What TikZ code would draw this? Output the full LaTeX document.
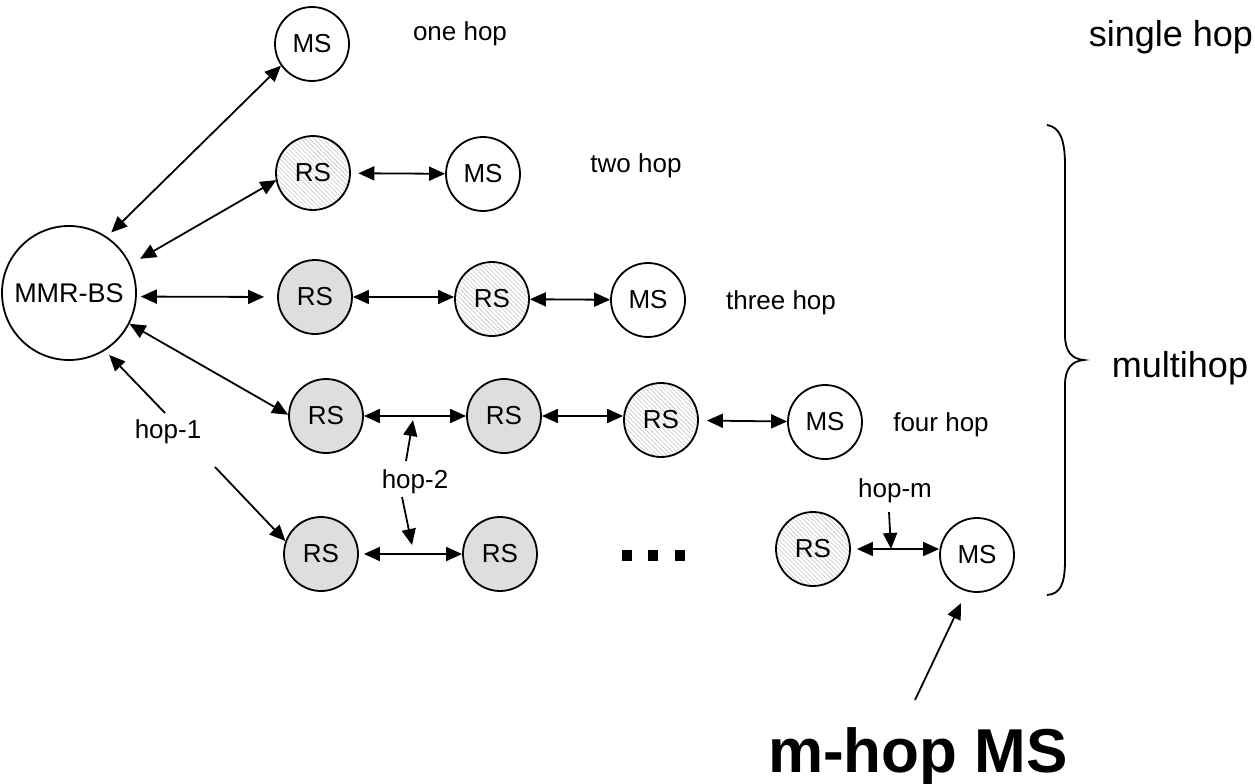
\documentclass[tikz,border=0pt]{standalone}
\usepackage{fontspec}
\setmainfont{Liberation Sans}
\usetikzlibrary{arrows.meta,patterns.meta}
\begin{document}
\begin{tikzpicture}[x=1pt,y=-1pt,
  every node/.style={font=\fontsize{26}{30}\selectfont},
  nd/.style={circle,draw,line width=1.8pt,minimum size=74pt,inner sep=0pt},
  gr/.style={nd,fill=black!13},
  ht/.style={nd,pattern={Lines[angle=-45,distance=3.2pt,line width=0.6pt]},pattern color=black!22},
  lk/.style={line width=1.8pt,{Triangle[length=16pt,width=14pt]}-{Triangle[length=16pt,width=14pt]}},
  pt/.style={line width=1.8pt,-{Triangle[length=16pt,width=14pt]}},
  lbl/.style={inner sep=0pt,anchor=base},
  big/.style={lbl,font=\fontsize{36}{40}\selectfont}]
\fill[white] (0,0) rectangle (1255,784);
\useasboundingbox (0,0) rectangle (1255,784);

% nodes
\node[nd,minimum size=134pt,font=\fontsize{27}{30}\selectfont] (bs) at (69,293) {MMR-BS};
\node[nd] (ms1) at (312,44) {MS};
\node[ht] (rs2) at (313,173) {RS};
\node[nd] (ms2) at (483,174) {MS};
\node[gr] (rs3a) at (315,297) {RS};
\node[ht] (rs3b) at (492,299) {RS};
\node[nd] (ms3) at (648,300) {MS};
\node[gr] (rs4a) at (326,416) {RS};
\node[gr] (rs4b) at (504,416) {RS};
\node[ht] (rs4c) at (661,420) {RS};
\node[nd] (ms4) at (825,422) {MS};
\node[gr] (rs5a) at (321,554) {RS};
\node[gr] (rs5b) at (500,554) {RS};
\node[ht] (rs5c) at (813,549) {RS};
\node[nd] (ms5) at (977,555) {MS};

% labels
\node[lbl] (l1) at (460,41) {one hop};
\node[lbl] (l2) at (636,172) {two hop};
\node[lbl] (l3) at (781,309) {three hop};
\node[lbl] (l4) at (941,431) {four hop};
\node[lbl] (hop1) at (168,438) {hop-1};
\node[lbl] (hop2) at (415,488) {hop-2};
\node[lbl] (hopm) at (895,497) {hop-m};
\node[big] (single) at (1171,47) {single hop};
\node[big] (multi) at (1180,377) {multihop};
\node[lbl,font=\fontsize{62}{66}\selectfont\bfseries] (mhop) at (918,772) {m-hop MS};

% links
\draw[lk,shorten <=6pt] (bs.56) -- (ms1.215);
\draw[lk,shorten <=11pt] (bs.25) -- (rs2.191);
\draw[lk,shorten <=4pt,shorten >=13pt] (bs.-3) -- (rs3a.west);
\draw[lk] (bs.-27) -- (rs4a.178);
\draw[lk,shorten <=8pt] (rs2) -- (ms2);
\draw[lk] (rs3a.east) -- (rs3a.east -| rs3b.west);
\draw[lk] (rs3b) -- (ms3);
\draw[lk] (rs4a) -- (rs4b);
\draw[lk] (rs4b.east) -- (rs4b.east -| rs4c.west);
\draw[lk,shorten <=8pt] (rs4c) -- (ms4);
\draw[lk,shorten <=5pt] (rs5a) -- (rs5b);
\draw[lk,shorten <=6pt] (rs5c.east) -- (rs5c.east -| ms5.west);

% pointer arrows
\coordinate (h1a) at (165,413);
\coordinate (h1b) at (215,467);
\coordinate (h2u) at (406,461);
\coordinate (h2ut) at (413,420);
\coordinate (h2d) at (402,497);
\coordinate (h2dt) at (412,545);
\coordinate (hmu) at (889,512);
\coordinate (hmt) at (891,549);
\coordinate (mh) at (915,700);
\draw[pt,shorten >=6pt] (h1a) -- (bs.-58);
\draw[pt] (h1b) -- (rs5a.160);
\draw[pt] (h2u) -- (h2ut);
\draw[pt] (h2d) -- (h2dt);
\draw[pt] (hmu) -- (hmt);
\draw[pt,shorten >=13pt] (mh) -- (ms5.-106);

% dots
\fill (622,550) rectangle (632,561);
\fill (648,550) rectangle (658,561);
\fill (675,550) rectangle (685,561);

% brace
\draw[line width=1.8pt] (1047,125) .. controls (1060,127) and (1065,140) .. (1065,165)
  -- (1065,335) .. controls (1065,352) and (1072,359) .. (1084,360)
  .. controls (1072,361) and (1065,368) .. (1065,385)
  -- (1065,560) .. controls (1065,585) and (1060,594) .. (1047,595);
\end{tikzpicture}
\end{document}
